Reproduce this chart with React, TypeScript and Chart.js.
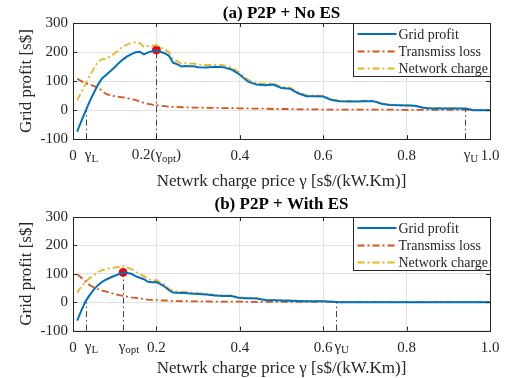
import React, { useEffect, useRef } from 'react';
import { Chart, registerables } from 'chart.js';

Chart.register(...registerables);

// ---------------- data ----------------
const X_VALUES = [
  0.01, 0.02, 0.03, 0.04, 0.05, 0.06, 0.07, 0.08, 0.09, 0.10,
  0.11, 0.12, 0.13, 0.14, 0.15, 0.16, 0.17, 0.18, 0.19, 0.20,
  0.21, 0.22, 0.23, 0.24, 0.25, 0.26, 0.27, 0.28, 0.29, 0.30,
  0.32, 0.34, 0.36, 0.38, 0.40, 0.42, 0.44, 0.46, 0.48, 0.50,
  0.52, 0.54, 0.56, 0.58, 0.60, 0.62, 0.64, 0.66, 0.68, 0.70,
  0.72, 0.74, 0.76, 0.78, 0.80, 0.82, 0.84, 0.86, 0.88, 0.90,
  0.92, 0.94, 0.96, 0.98, 1.00,
];

// (a) P2P + No ES
const A_GRID_PROFIT = [
  -74, -38, -3, 30, 60, 88, 110, 122, 135, 148,
  162, 175, 185, 193, 199, 201, 192, 199, 203, 207,
  200, 196, 187, 163, 158, 150, 152, 151, 151, 148,
  147, 149, 148, 140, 122, 98, 88, 86, 88, 76,
  74, 58, 48, 48, 47, 35, 31, 30, 30, 31,
  31, 22, 18, 17, 16, 15, 8, 6, 6, 6,
  6, 6, 0, 0, 0,
];
const A_TRANSMISS_LOSS = [
  108, 100, 93, 88, 83, 78, 66, 55, 51, 48,
  46, 44, 41, 38, 35, 30, 25, 22, 19, 17,
  15, 14, 12, 11, 11, 10, 10, 9, 9, 9,
  8, 8, 7, 7, 6, 6, 5, 5, 4, 4,
  4, 3, 3, 3, 2, 2, 2, 2, 2, 2,
  2, 2, 2, 1, 1, 1, 1, 1, 1, 1,
  1, 1, 0, 0, 0,
];
const A_NETWORK_CHARGE = [
  34, 62, 90, 118, 143, 166, 176, 177, 186, 196,
  208, 219, 226, 231, 234, 231, 217, 221, 222, 224,
  215, 210, 199, 174, 169, 160, 162, 160, 160, 157,
  155, 157, 155, 147, 128, 104, 93, 91, 92, 80,
  78, 61, 51, 51, 49, 37, 33, 32, 32, 33,
  33, 24, 19, 18, 17, 16, 9, 7, 7, 7,
  7, 7, 0, 0, 0,
];

// (b) P2P + With ES
const B_GRID_PROFIT = [
  -65, -30, 3, 25, 45, 60, 72, 80, 87, 93,
  99, 105, 103, 100, 92, 86, 81, 72, 70, 71,
  64, 55, 42, 34, 33, 32, 32, 31, 30, 29,
  27, 24, 22, 22, 15, 14, 13, 8, 7, 6,
  5, 4, 3, 3, 3, 2, 0, 0, 0, 0,
  0, 0, 0, 0, 0, 0, 0, 0, 0, 0,
  0, 0, 0, 0, 0,
];
const B_TRANSMISS_LOSS = [
  99, 86, 73, 60, 52, 46, 41, 37, 33, 29,
  25, 22, 20, 17, 15, 13, 11, 9, 8, 7,
  6, 6, 5, 5, 4, 4, 4, 3, 3, 3,
  3, 2, 2, 2, 2, 1, 1, 1, 1, 1,
  1, 1, 1, 1, 1, 1, 0, 0, 0, 0,
  0, 0, 0, 0, 0, 0, 0, 0, 0, 0,
  0, 0, 0, 0, 0,
];
const B_NETWORK_CHARGE = [
  33, 56, 72, 85, 95, 106, 113, 117, 120, 122,
  124, 127, 123, 117, 107, 99, 92, 81, 78, 78,
  70, 61, 47, 39, 37, 36, 36, 34, 33, 32,
  30, 26, 24, 24, 17, 15, 14, 9, 8, 7,
  6, 5, 4, 4, 4, 3, 0, 0, 0, 0,
  0, 0, 0, 0, 0, 0, 0, 0, 0, 0,
  0, 0, 0, 0, 0,
];

const SERIES_NAMES = ['Grid profit', 'Transmiss loss', 'Network charge'];
const PANEL_TITLES = ['(a) P2P + No ES', '(b) P2P + With ES'];
const Y_TITLE = 'Grid profit [s$]';
const X_TITLE = 'Netwrk charge price γ [s$/(kW.Km)]';
const Y_MIN = -100;
const Y_MAX = 300;
const Y_STEP = 100;
const X_GRID_VALUES = [0.2, 0.4, 0.6, 0.8];

const A_X_TICK_VALUES = [0, 0.03, 0.2, 0.4, 0.6, 0.8, 0.94, 1];
const A_X_TICK_LABELS = ['0', 'γ_{L}', '0.2(γ_{opt})', '0.4', '0.6', '0.8', 'γ_{U}', '1.0'];
const B_X_TICK_VALUES = [0, 0.03, 0.12, 0.2, 0.4, 0.6, 0.63, 0.8, 1];
const B_X_TICK_LABELS = ['0', 'γ_{L}', 'γ_{opt}', '0.2', '0.4', '0.6', 'γ_{U}', '0.8', '1.0'];

// guide lines: gamma_L, gamma_opt, gamma_U (x) and the value they reach (y)
const A_GUIDE_X = [0.03, 0.2, 0.94];
const A_GUIDE_Y = [0, 207, 0];
const B_GUIDE_X = [0.03, 0.12, 0.63];
const B_GUIDE_Y = [0, 105, 0];

// optimum points
const A_OPT = [0.2, 207];
const B_OPT = [0.12, 105];

// ---------------- styling ----------------
const FONT = "'Liberation Serif', 'Times New Roman', serif";
const TEXT = '#262626';
const GRID = '#e3e3e3';
const BLUE = '#0072BD';
const RED = '#D95319';
const YELLOW = '#EDB120';
const DASHDOT = [7, 3, 2, 3];
const W = 511;
const H = 189;

type Panel = {
  title: string;
  gp: number[];
  tl: number[];
  nc: number[];
  tickValues: number[];
  tickLabels: string[];
  guideX: number[];
  guideY: number[];
  opt: number[];
  titleY: number;
  areaTop: number;
  xAxisHeight: number;
  xTitlePadBottom: number;
};

const isRich = (s: string) => s.indexOf('_{') >= 0;

function parseRich(label: string) {
  const parts: { t: string; sub: boolean }[] = [];
  const re = /_\{([^}]*)\}/g;
  let last = 0;
  let m: RegExpExecArray | null;
  while ((m = re.exec(label))) {
    if (m.index > last) parts.push({ t: label.slice(last, m.index), sub: false });
    parts.push({ t: m[1], sub: true });
    last = m.index + m[0].length;
  }
  if (last < label.length) parts.push({ t: label.slice(last), sub: false });
  return parts;
}

function richWidth(ctx: CanvasRenderingContext2D, label: string) {
  let total = 0;
  for (const p of parseRich(label)) {
    ctx.font = p.sub ? `11px ${FONT}` : `15px ${FONT}`;
    total += ctx.measureText(p.t).width;
  }
  return total;
}

function drawRich(ctx: CanvasRenderingContext2D, label: string, x0: number, cy: number) {
  let x = x0;
  ctx.textAlign = 'left';
  ctx.textBaseline = 'middle';
  ctx.fillStyle = TEXT;
  for (const p of parseRich(label)) {
    ctx.font = p.sub ? `11px ${FONT}` : `15px ${FONT}`;
    ctx.fillText(p.t, x, p.sub ? cy + 4 : cy);
    x += ctx.measureText(p.t).width;
  }
}

function makePlugin(panel: Panel) {
  return {
    id: 'matlabDecor',
    beforeDatasetsDraw(chart: any) {
      const { ctx, chartArea } = chart;
      const xs = chart.scales.x;
      const ys = chart.scales.y;
      ctx.save();
      ctx.strokeStyle = '#404040';
      ctx.lineWidth = 1;
      ctx.setLineDash([6, 3, 1.5, 3]);
      panel.guideX.forEach((gx, i) => {
        const px = Math.round(xs.getPixelForValue(gx)) + 0.5;
        ctx.beginPath();
        ctx.moveTo(px, chartArea.bottom);
        ctx.lineTo(px, ys.getPixelForValue(panel.guideY[i]));
        ctx.stroke();
      });
      ctx.restore();
    },
    afterDraw(chart: any) {
      const { ctx, chartArea } = chart;
      const xs = chart.scales.x;
      const ys = chart.scales.y;
      const { left, right, top, bottom } = chartArea;
      ctx.save();
      // panel title
      ctx.fillStyle = '#000';
      ctx.font = `bold 17px ${FONT}`;
      ctx.textAlign = 'center';
      ctx.textBaseline = 'middle';
      ctx.fillText(panel.title, (left + right) / 2, panel.titleY);
      // box
      ctx.strokeStyle = TEXT;
      ctx.lineWidth = 1;
      ctx.setLineDash([]);
      ctx.strokeRect(Math.round(left) + 0.5, Math.round(top) + 0.5, Math.round(right - left), Math.round(bottom - top));
      // inward ticks
      ctx.beginPath();
      for (let v = Y_MIN + Y_STEP; v < Y_MAX; v += Y_STEP) {
        const py = Math.round(ys.getPixelForValue(v)) + 0.5;
        ctx.moveTo(left, py);
        ctx.lineTo(left + 4, py);
        ctx.moveTo(right, py);
        ctx.lineTo(right - 4, py);
      }
      X_GRID_VALUES.forEach((v) => {
        const px = Math.round(xs.getPixelForValue(v)) + 0.5;
        ctx.moveTo(px, bottom);
        ctx.lineTo(px, bottom - 4);
        ctx.moveTo(px, top);
        ctx.lineTo(px, top + 4);
      });
      ctx.stroke();
      // x tick labels with subscripts (plain ones are drawn by the axis)
      panel.tickValues.forEach((v, i) => {
        const lab = panel.tickLabels[i];
        if (!isRich(lab)) return;
        const shift = lab.charAt(0) === 'γ' ? 6 : 0;
        const w = richWidth(ctx, lab);
        drawRich(ctx, lab, xs.getPixelForValue(v) + shift - w / 2, bottom + 16);
      });
      // legend
      const lw = 137;
      const lh = 53;
      const lx = Math.round(right - lw) + 0.5;
      const ly = Math.round(top) + 0.5;
      ctx.fillStyle = '#ffffff';
      ctx.fillRect(lx, ly, lw, lh);
      ctx.strokeStyle = TEXT;
      ctx.strokeRect(lx, ly, lw, lh);
      const colors = [BLUE, RED, YELLOW];
      const rows = [10.5, 28, 45];
      ctx.font = `14px ${FONT}`;
      ctx.textAlign = 'left';
      ctx.textBaseline = 'middle';
      SERIES_NAMES.forEach((name, i) => {
        const yy = ly + rows[i];
        ctx.strokeStyle = colors[i];
        ctx.lineWidth = i === 0 ? 2 : 1.8;
        ctx.setLineDash(i === 0 ? [] : DASHDOT);
        ctx.beginPath();
        ctx.moveTo(lx + 4, yy);
        ctx.lineTo(lx + 43, yy);
        ctx.stroke();
        ctx.fillStyle = TEXT;
        ctx.fillText(name, lx + 45, yy + 1);
      });
      ctx.restore();
    },
  };
}

function buildConfig(panel: Panel): any {
  const mk = (arr: number[]) => X_VALUES.map((x, i) => ({ x, y: arr[i] }));
  return {
    type: 'line',
    data: {
      datasets: [
        { label: SERIES_NAMES[0], data: mk(panel.gp), borderColor: BLUE, borderWidth: 2, pointRadius: 0, tension: 0 },
        { label: SERIES_NAMES[1], data: mk(panel.tl), borderColor: RED, borderWidth: 1.8, borderDash: DASHDOT, pointRadius: 0, tension: 0 },
        { label: SERIES_NAMES[2], data: mk(panel.nc), borderColor: YELLOW, borderWidth: 1.8, borderDash: DASHDOT, pointRadius: 0, tension: 0 },
        {
          label: 'optimum',
          data: [{ x: panel.opt[0], y: panel.opt[1] }],
          showLine: false,
          pointRadius: 4,
          pointBackgroundColor: '#ff0000',
          pointBorderColor: '#ff0000',
        },
      ],
    },
    options: {
      responsive: false,
      animation: false,
      layout: { padding: { left: 0, right: 21, top: panel.areaTop, bottom: 0 } },
      plugins: {
        legend: { display: false },
        tooltip: { enabled: false },
        title: { display: false },
      },
      scales: {
        x: {
          type: 'linear',
          min: 0,
          max: 1,
          afterBuildTicks: (s: any) => {
            s.ticks = panel.tickValues.map((v) => ({ value: v }));
          },
          ticks: {
            autoSkip: false,
            maxRotation: 0,
            minRotation: 0,
            padding: 8,
            color: TEXT,
            font: { family: FONT, size: 15 },
            callback: (_v: any, i: number) => (isRich(panel.tickLabels[i]) ? '' : panel.tickLabels[i]),
          },
          grid: {
            drawTicks: false,
            color: (c: any) => (c.tick && X_GRID_VALUES.indexOf(c.tick.value) >= 0 ? GRID : 'rgba(0,0,0,0)'),
          },
          border: { display: false },
          title: {
            display: true,
            text: X_TITLE,
            color: TEXT,
            font: { family: FONT, size: 17, lineHeight: '14px' },
            padding: { top: 0, bottom: panel.xTitlePadBottom },
          },
          afterFit: (s: any) => {
            s.height = panel.xAxisHeight;
          },
        },
        y: {
          min: Y_MIN,
          max: Y_MAX,
          ticks: { stepSize: Y_STEP, color: TEXT, font: { family: FONT, size: 15 }, padding: 5 },
          grid: { color: GRID, drawTicks: false },
          border: { display: false },
          title: {
            display: true,
            text: Y_TITLE,
            color: TEXT,
            font: { family: FONT, size: 17, lineHeight: 1 },
            padding: { top: 18.5, bottom: 0 },
          },
          afterFit: (s: any) => {
            s.width = 73;
          },
        },
      },
    },
    plugins: [makePlugin(panel)],
  };
}

const PANELS: Panel[] = [
  {
    title: PANEL_TITLES[0],
    gp: A_GRID_PROFIT,
    tl: A_TRANSMISS_LOSS,
    nc: A_NETWORK_CHARGE,
    tickValues: A_X_TICK_VALUES,
    tickLabels: A_X_TICK_LABELS,
    guideX: A_GUIDE_X,
    guideY: A_GUIDE_Y,
    opt: A_OPT,
    titleY: 13.5,
    areaTop: 23,
    xAxisHeight: 49.8,
    xTitlePadBottom: 0,
  },
  {
    title: PANEL_TITLES[1],
    gp: B_GRID_PROFIT,
    tl: B_TRANSMISS_LOSS,
    nc: B_NETWORK_CHARGE,
    tickValues: B_X_TICK_VALUES,
    tickLabels: B_X_TICK_LABELS,
    guideX: B_GUIDE_X,
    guideY: B_GUIDE_Y,
    opt: B_OPT,
    titleY: 16,
    areaTop: 28,
    xAxisHeight: 47.4,
    xTitlePadBottom: 2.7,
  },
];

function PanelChart({ panel }: { panel: Panel }) {
  const ref = useRef<HTMLCanvasElement>(null);
  useEffect(() => {
    if (!ref.current) return;
    const chart = new Chart(ref.current, buildConfig(panel));
    return () => chart.destroy();
  }, [panel]);
  return <canvas ref={ref} width={W} height={H} style={{ display: 'block', width: W, height: H }} />;
}

export default function App() {
  return (
    <div style={{ position: 'absolute', left: 0, top: 0, width: W, height: 2 * H, background: '#fff' }}>
      <PanelChart panel={PANELS[0]} />
      <PanelChart panel={PANELS[1]} />
    </div>
  );
}
